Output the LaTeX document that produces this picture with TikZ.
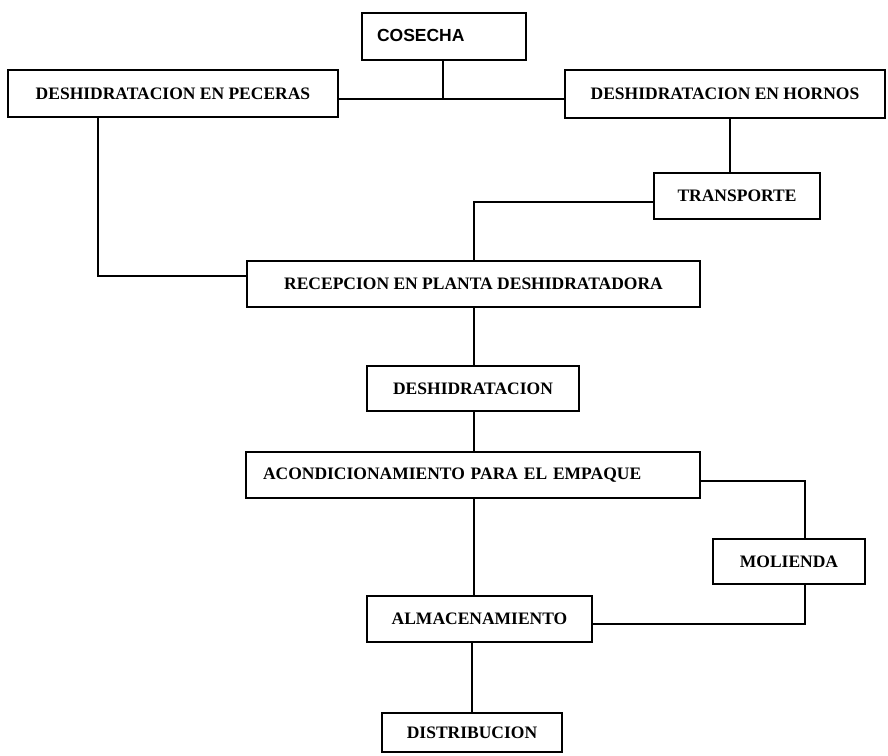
\documentclass[tikz,border=0pt]{standalone}
\usepackage{fontspec}
\setmainfont{Liberation Serif}
\newfontfamily\arialfont{Liberation Sans}
\usepackage{tikz}
\usetikzlibrary{positioning}

\begin{document}
\begin{tikzpicture}[
            x=1pt, y=-1pt,
            caja/.style={draw, line width=1.1pt, inner sep=0pt, minimum height=46pt,
                font=\fontsize{17.5}{20}\selectfont\bfseries},
            linea/.style={line width=1.1pt},
        ]
            \useasboundingbox (0,0) rectangle (888,755);

            \node[caja, minimum width=164pt, minimum height=47pt, text width=134pt, inner xsep=15pt,
                align=left, font=\fontsize{17.5}{20}\selectfont\arialfont\bfseries] (cosecha) at (444,36.5)
                {\raisebox{3pt}{COSECHA}};
            \node[caja, minimum width=330pt, minimum height=47pt] (peceras) at (173,93.5) {DESHIDRATACION EN PECERAS};
            \node[caja, minimum width=320pt, minimum height=48pt] (hornos) at (725,94) {DESHIDRATACION EN HORNOS};
            \node[caja, minimum width=166pt] (transporte) at (737,196) {TRANSPORTE};
            \node[caja, minimum width=453pt] (recepcion) at (473.5,284) {RECEPCION EN PLANTA DESHIDRATADORA};
            \node[caja, minimum width=212pt, minimum height=45pt] (deshid) at (473,388.5) {DESHIDRATACION};
            \node[caja, minimum width=454pt, text width=420pt, inner xsep=17pt, align=left] (acond) at (473,475)
                {ACONDICIONAMIENTO PARA EL EMPAQUE};
            \node[caja, minimum width=152pt, minimum height=45pt] (molienda) at (789,561.5) {MOLIENDA};
            \node[caja, minimum width=225pt] (almacen) at (479.5,619) {ALMACENAMIENTO};
            \node[caja, minimum width=180pt, minimum height=39pt] (distrib) at (472,732.5) {DISTRIBUCION};

            % puntos de quiebre
            \coordinate (cruce) at (443,99);
            \coordinate (ejeizq) at (98,276);
            \coordinate (ejecentro) at (474,202);
            \coordinate (ejehornos) at (730,0);
            \coordinate (ejemol) at (805,481);
            \coordinate (retorno) at (805,624);

            \draw[linea] (cosecha.south -| cruce) -- (cruce);
            \draw[linea] (peceras.east |- cruce) -- (hornos.west |- cruce);
            \draw[linea] (peceras.south -| ejeizq) -- (ejeizq) -- (recepcion.west |- ejeizq);
            \draw[linea] (hornos.south -| ejehornos) -- (transporte.north -| ejehornos);
            \draw[linea] (transporte.west |- ejecentro) -- (ejecentro) -- (recepcion.north -| ejecentro);
            \draw[linea] (recepcion.south -| ejecentro) -- (deshid.north -| ejecentro);
            \draw[linea] (deshid.south -| ejecentro) -- (acond.north -| ejecentro);
            \draw[linea] (acond.south -| ejecentro) -- (almacen.north -| ejecentro);
            \draw[linea] (acond.east |- ejemol) -- (ejemol) -- (molienda.north -| ejemol);
            \draw[linea] (molienda.south -| retorno) -- (retorno) -- (almacen.east |- retorno);
            \draw[linea] (almacen.south -| distrib) -- (distrib.north);
        \end{tikzpicture}
\end{document}
